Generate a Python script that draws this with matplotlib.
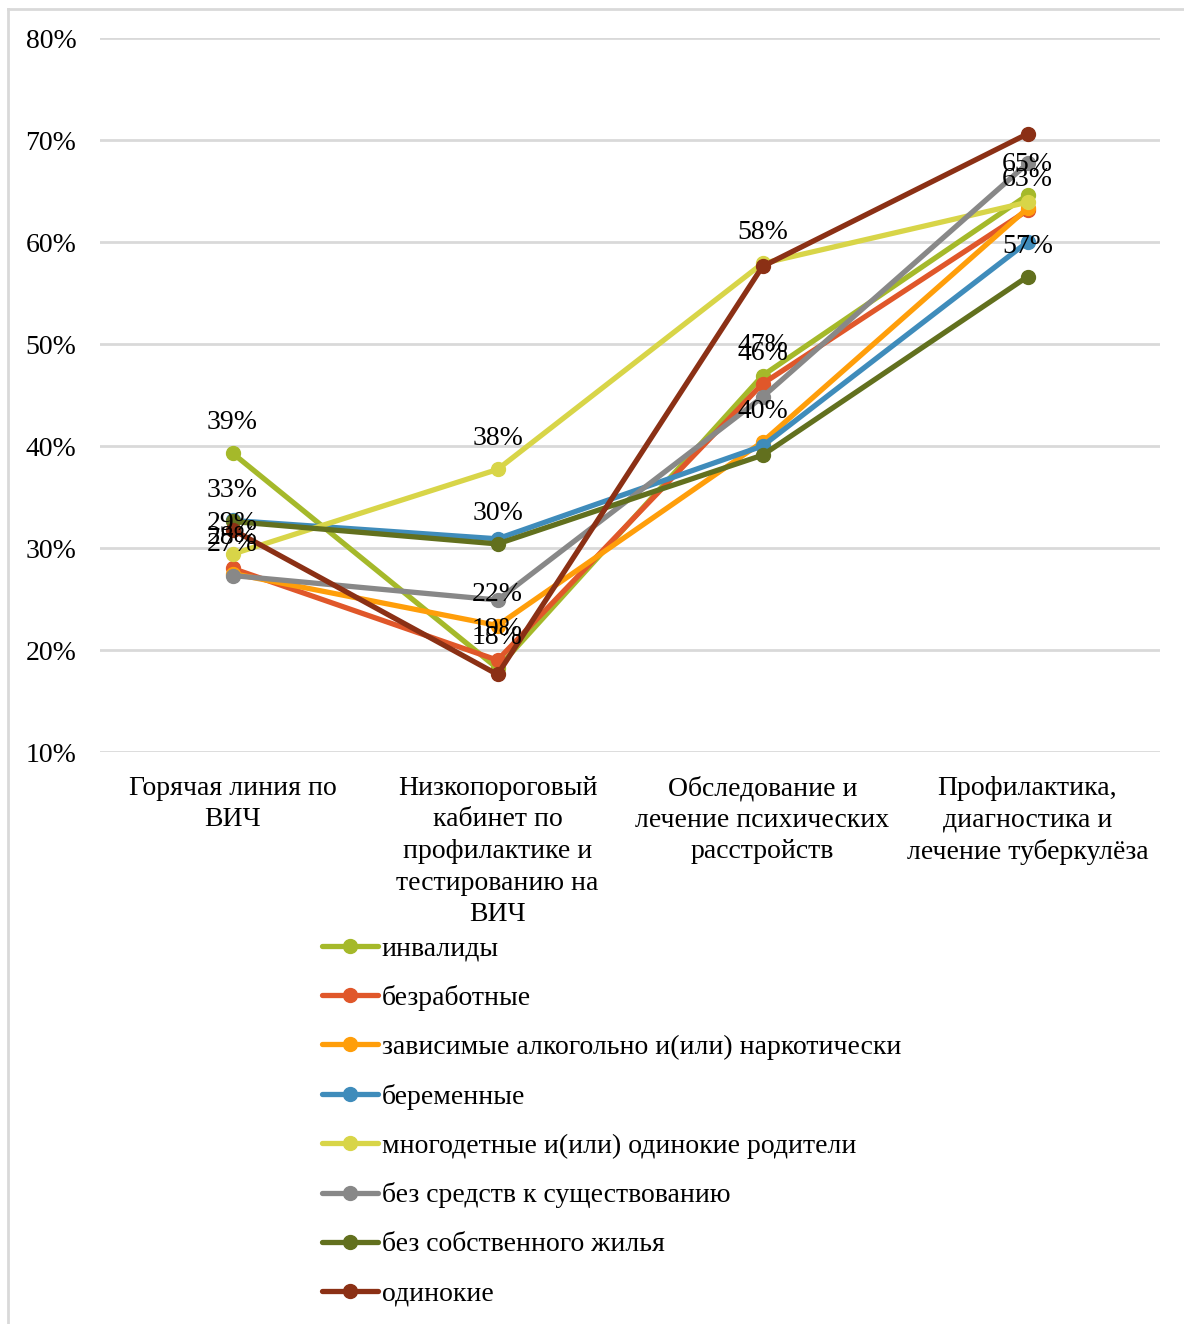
import numpy as np
import matplotlib
matplotlib.use("Agg")
import matplotlib.pyplot as plt
from matplotlib.lines import Line2D

plt.rcParams['font.family'] = ['Liberation Serif', 'DejaVu Serif']

categories = [
    "Горячая линия по\nВИЧ",
    "Низкопороговый\nкабинет по\nпрофилактике и\nтестированию на\nВИЧ",
    "Обследование и\nлечение психических\nрасстройств",
    "Профилактика,\nдиагностика и\nлечение туберкулёза",
]

series_names = [
    "инвалиды",
    "безработные",
    "зависимые алкогольно и(или) наркотически",
    "беременные",
    "многодетные и(или) одинокие родители",
    "без средств к существованию",
    "без собственного жилья",
    "одинокие",
]

invalidy = [39.3, 18.2, 46.9, 64.6]
bezrabotnye = [28.0, 19.0, 46.1, 63.1]
zavisimye = [27.5, 22.4, 40.4, 63.3]
beremennye = [32.7, 30.9, 40.0, 60.0]
mnogodetnye = [29.4, 37.7, 57.9, 63.9]
bez_sredstv = [27.3, 24.9, 44.8, 67.7]
bez_zhilya = [32.6, 30.4, 39.1, 56.6]
odinokie = [31.8, 17.6, 57.6, 70.6]

values = [invalidy, bezrabotnye, zavisimye, beremennye,
          mnogodetnye, bez_sredstv, bez_zhilya, odinokie]

# which points carry a percentage label
show_labels = [
    [1, 1, 1, 1],
    [1, 1, 1, 1],
    [0, 1, 1, 0],
    [0, 0, 0, 0],
    [1, 1, 1, 0],
    [1, 0, 0, 0],
    [1, 1, 0, 1],
    [0, 0, 0, 0],
]

colors = ["#A5B92A", "#E0572A", "#FF9E0A", "#3F8CBB",
          "#D8D548", "#888888", "#62701E", "#8B3015"]

fig = plt.figure(figsize=(11.84, 13.24), dpi=100)
ax = fig.add_axes([100 / 1184, 1 - 752 / 1324, 1060 / 1184, 714 / 1324])

x = np.arange(len(categories))
fs = 20

for name, vals, col in zip(series_names, values, colors):
    ax.plot(x, vals, color=col, lw=3.8, marker='o', markersize=10,
            solid_capstyle='round', label=name, zorder=3)

for vals, flags in zip(values, show_labels):
    for xi, v, f in zip(x, vals, flags):
        if f:
            ax.annotate(f"{v:.0f}%", (xi, v), xytext=(0, 22),
                        textcoords='offset points', ha='center', va='center',
                        fontsize=fs, zorder=5)

ax.set_xlim(-0.5, 3.5)
ax.set_ylim(10, 80)
ax.set_yticks(np.arange(10, 81, 10))
ax.set_yticklabels([f"{t}%" for t in range(10, 81, 10)], fontsize=fs)
ax.set_xticks(x)
ax.set_xticklabels(categories, fontsize=fs, linespacing=1.35)
ax.tick_params(axis='both', length=0)
ax.tick_params(axis='y', pad=17)
ax.tick_params(axis='x', pad=17)
ax.grid(axis='y', color='#D9D9D9', lw=2)
ax.set_axisbelow(True)
for s in ax.spines.values():
    s.set_visible(False)

leg = fig.legend(loc='upper left', bbox_to_anchor=(322 / 1184, 1 - 936 / 1324),
                 frameon=False, fontsize=fs, handlelength=2.0,
                 handletextpad=0.15, labelspacing=0.85, borderpad=0,
                 borderaxespad=0)

# outer chart border
fig.add_artist(Line2D([8 / 1184, 8 / 1184], [0, 1 - 9 / 1324],
                      transform=fig.transFigure, color='#D9D9D9', lw=2))
fig.add_artist(Line2D([8 / 1184, 1], [1 - 9 / 1324, 1 - 9 / 1324],
                      transform=fig.transFigure, color='#D9D9D9', lw=2))

fig.savefig("out.png", dpi=100)
